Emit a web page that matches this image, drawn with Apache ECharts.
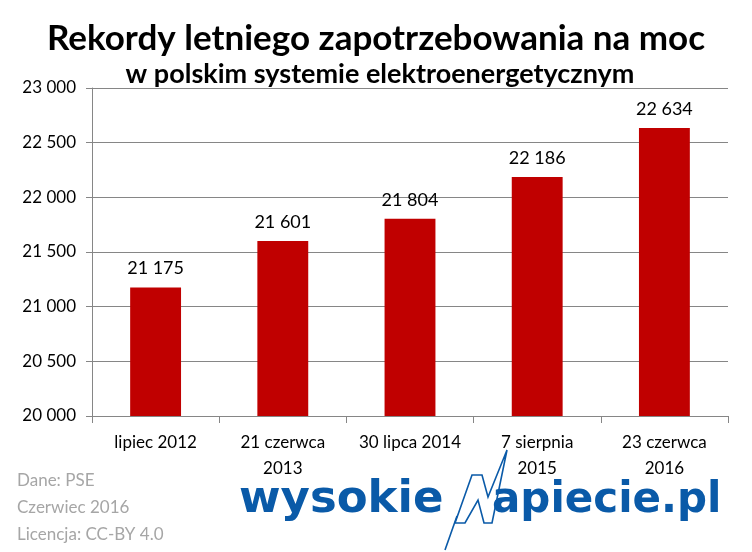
<!DOCTYPE html>
<html>
<head>
<meta charset="utf-8">
<script src="https://cdn.jsdelivr.net/npm/echarts@6/dist/echarts.min.js"></script>
<style>
  html, body { margin: 0; padding: 0; background: #fff; }
  #chart { width: 752px; height: 552px; }
</style>
</head>
<body>
<div id="chart"></div>
<script>
  // dane z wykresu
  var categories = ['lipiec 2012', '21 czerwca\n2013', '30 lipca 2014', '7 sierpnia\n2015', '23 czerwca\n2016']
  var demand = [21175, 21601, 21804, 22186, 22634]
  var yTicks = [20000, 20500, 21000, 21500, 22000, 22500, 23000]
  var notes = ['Dane: PSE', 'Czerwiec 2016', 'Licencja: CC-BY 4.0']

  function fmt(v) {
    return String(v).replace(/\B(?=(\d{3})+(?!\d))/g, ' ')
  }

  var font = 'Lato'
  var blue = '#0a5aa8'
  var chart = echarts.init(document.getElementById('chart'))

  var noteTexts = notes.map(function (t, i) {
    return {
      type: 'text',
      left: 17,
      top: 472 + i * 27,
      style: { text: t, font: '17px ' + font, fill: '#a6a6a6' }
    }
  })

  chart.setOption({
    animation: false,
    title: [
      {
        text: 'Rekordy letniego zapotrzebowania na moc',
        left: 'center',
        top: 16,
        textStyle: { fontFamily: font, fontWeight: 'bold', fontSize: 35, color: '#000' }
      },
      {
        text: 'w polskim systemie elektroenergetycznym',
        left: 375,
        top: 56,
        textAlign: 'center',
        textStyle: { fontFamily: font, fontWeight: 'bold', fontSize: 27, color: '#000' }
      }
    ],
    grid: { left: 92, right: 24, top: 88, bottom: 136 },
    xAxis: {
      type: 'category',
      data: categories,
      axisLine: { lineStyle: { color: '#868686' } },
      axisTick: { show: true, length: 7, lineStyle: { color: '#868686' } },
      axisLabel: { fontFamily: font, fontSize: 17, color: '#000', margin: 14, lineHeight: 26, interval: 0 }
    },
    yAxis: {
      type: 'value',
      min: yTicks[0],
      max: yTicks[yTicks.length - 1],
      interval: 500,
      axisLine: { show: true, lineStyle: { color: '#868686' } },
      axisTick: { show: true, length: 6, lineStyle: { color: '#868686' } },
      splitLine: { lineStyle: { color: '#868686' } },
      axisLabel: { fontFamily: font, fontSize: 17, color: '#000', margin: 16, formatter: fmt }
    },
    series: [
      {
        type: 'bar',
        data: demand,
        barWidth: '40%',
        itemStyle: { color: '#c00000' },
        label: {
          show: true,
          position: 'top',
          distance: 10,
          fontFamily: font,
          fontSize: 18,
          color: '#000',
          formatter: function (p) { return fmt(p.value) }
        }
      }
    ],
    graphic: noteTexts.concat([
      {
        type: 'text',
        left: 239,
        top: 478,
        style: { text: 'wysokie', font: 'bold 45px "DejaVu Sans"', fill: blue }
      },
      // logo: błyskawica "N"
      {
        type: 'polygon',
        shape: { points: [[455, 523], [472, 475], [482, 475], [488, 497], [507, 450], [492, 523], [484, 523], [478, 500], [465, 523]] },
        style: { stroke: blue, lineWidth: 1.6, fill: '#fff' }
      },
      {
        type: 'line',
        shape: { x1: 457, y1: 516, x2: 445, y2: 550 },
        style: { stroke: blue, lineWidth: 1.6 }
      },
      {
        type: 'text',
        left: 492,
        top: 480,
        style: { text: 'apiecie.pl', font: 'bold 42px "DejaVu Sans"', fill: blue }
      }
    ])
  })
</script>
</body>
</html>
